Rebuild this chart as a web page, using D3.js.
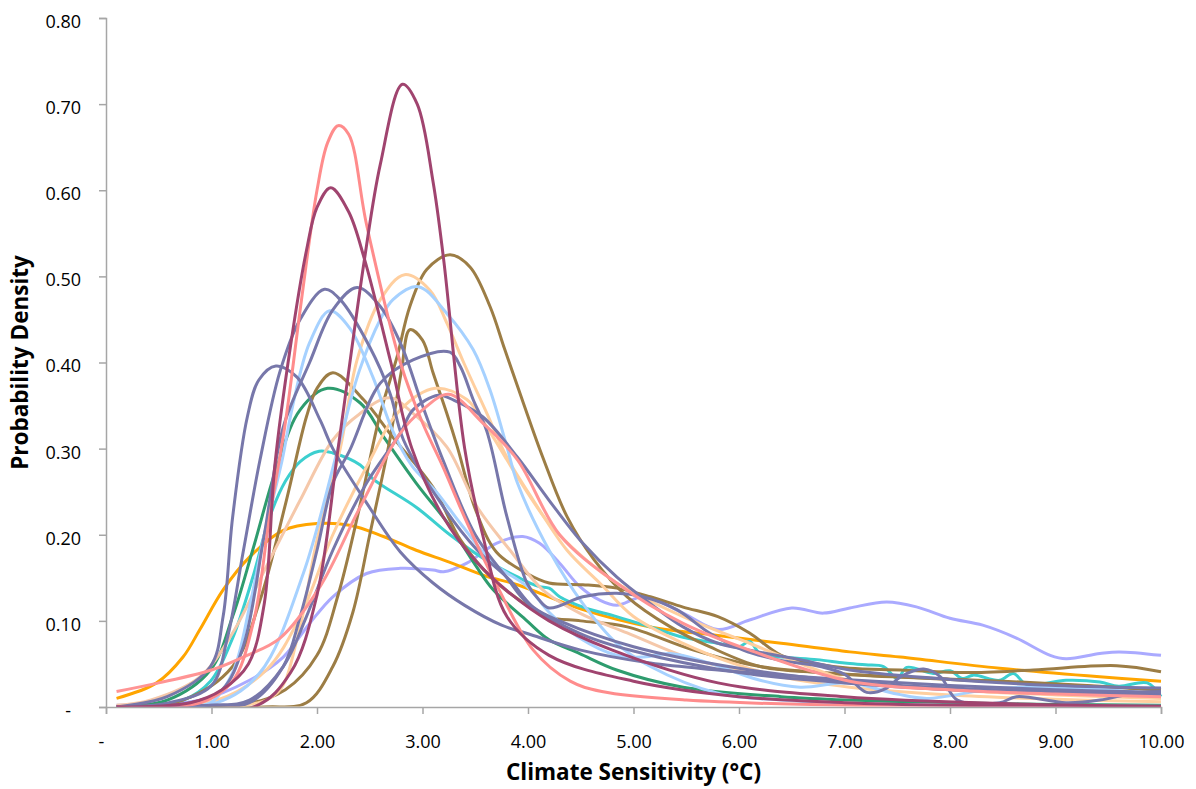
<html>
<head>
<style>
  body { margin: 0; background: #fff; }
  text { font-family: "Open Sans", sans-serif; fill: #000; }
</style>
</head>
<body>
<svg id="svg" width="1196" height="789"></svg>

<script src="https://cdn.jsdelivr.net/npm/d3@7/dist/d3.min.js"></script>
<script>
// tick values
const xTickValues = [0, 1, 2, 3, 4, 5, 6, 7, 8, 9, 10];
const yTickValues = [0, 0.1, 0.2, 0.3, 0.4, 0.5, 0.6, 0.7, 0.8];

// each curve: [climate sensitivity, probability density]
const lavender = [[0.1,0.002],[0.89,0.008],[1.36,0.031],[1.68,0.058],[1.93,0.097],[2.15,0.128],[2.47,0.155],[2.79,0.161],[3.1,0.159],[3.2,0.157],[3.42,0.167],[3.7,0.19],[3.95,0.198],[4.11,0.19],[4.3,0.167],[4.49,0.14],[4.68,0.124],[4.84,0.118],[5.1,0.128],[5.47,0.109],[5.8,0.09],[6.1,0.101],[6.5,0.115],[6.8,0.109],[7.05,0.115],[7.4,0.122],[7.69,0.116],[8.0,0.103],[8.31,0.095],[8.63,0.08],[8.95,0.06],[9.1,0.056],[9.42,0.062],[9.6,0.064],[10,0.06]];
const orange = [[0.1,0.01],[0.48,0.028],[0.73,0.058],[0.89,0.09],[1.11,0.136],[1.36,0.174],[1.68,0.205],[2.0,0.213],[2.31,0.211],[2.63,0.198],[2.94,0.182],[3.26,0.168],[3.6,0.152],[3.9,0.142],[4.52,0.113],[5.16,0.093],[5.8,0.083],[6.4,0.074],[7.05,0.064],[7.53,0.058],[8.47,0.045],[9.42,0.035],[10,0.03]];
const teal = [[0.1,0],[0.73,0.008],[0.99,0.03],[1.2,0.08],[1.39,0.15],[1.55,0.22],[1.7,0.262],[1.84,0.285],[2.02,0.297],[2.15,0.295],[2.41,0.281],[2.53,0.265],[2.94,0.232],[3.26,0.2],[3.57,0.173],[3.9,0.151],[4.1,0.14],[4.2,0.138],[4.3,0.128],[4.52,0.116],[4.84,0.105],[5.16,0.093],[5.47,0.081],[5.8,0.074],[6.0,0.07],[6.1,0.076],[6.2,0.062],[6.4,0.058],[6.74,0.055],[7.0,0.051],[7.2,0.049],[7.37,0.047],[7.5,0.033],[7.59,0.046],[7.84,0.039],[8.0,0.042],[8.12,0.033],[8.22,0.037],[8.47,0.031],[8.6,0.039],[8.73,0.026],[9.1,0.031],[9.42,0.029],[9.6,0.024],[9.87,0.028],[10,0.012]];
const green = [[0.1,0],[0.58,0.008],[0.99,0.043],[1.2,0.105],[1.39,0.182],[1.62,0.279],[1.84,0.345],[2.1,0.37],[2.41,0.353],[2.63,0.314],[2.94,0.26],[3.26,0.21],[3.5,0.165],[3.67,0.136],[3.99,0.1],[4.2,0.078],[4.49,0.062],[4.84,0.043],[5.47,0.023],[6.4,0.012],[7.05,0.008],[8,0.005],[9,0.003],[10,0.002]];
const brownA = [[0.1,0],[1.3,0.003],[1.7,0.02],[2.0,0.06],[2.2,0.13],[2.4,0.23],[2.6,0.341],[2.76,0.407],[2.88,0.465],[3.04,0.508],[3.26,0.525],[3.45,0.511],[3.64,0.465],[3.78,0.415],[3.95,0.355],[4.14,0.29],[4.37,0.221],[4.62,0.172],[4.94,0.128],[5.35,0.093],[5.72,0.07],[6.2,0.047],[6.77,0.04],[7.5,0.035],[8.5,0.03],[9.3,0.025],[10,0.02]];
const brownB = [[0.1,0],[1.5,0],[1.9,0.005],[2.15,0.047],[2.34,0.11],[2.5,0.2],[2.69,0.31],[2.8,0.39],[2.88,0.438],[3.0,0.426],[3.1,0.388],[3.23,0.341],[3.33,0.302],[3.5,0.23],[3.7,0.18],[3.99,0.155],[4.2,0.144],[4.52,0.142],[4.84,0.138],[5.16,0.128],[5.47,0.116],[5.8,0.105],[6.1,0.086],[6.4,0.06],[6.74,0.05],[7.05,0.045],[7.53,0.043],[8.16,0.04],[8.79,0.043],[9.58,0.048],[10,0.041]];
const brownC = [[0.1,0],[0.73,0.008],[1.2,0.047],[1.46,0.124],[1.71,0.24],[1.9,0.337],[2.0,0.37],[2.15,0.388],[2.44,0.357],[2.72,0.313],[3.1,0.255],[3.36,0.194],[3.67,0.148],[3.92,0.124],[4.18,0.105],[4.5,0.1],[4.94,0.093],[5.57,0.066],[6.2,0.047],[7,0.038],[8,0.032],[9,0.026],[10,0.02]];
const tan = [[0.1,0.002],[0.42,0.008],[0.89,0.035],[1.2,0.086],[1.52,0.163],[1.84,0.24],[2.15,0.31],[2.4,0.34],[2.69,0.359],[2.91,0.341],[3.23,0.302],[3.52,0.232],[3.83,0.182],[4.14,0.136],[4.49,0.109],[4.94,0.086],[5.57,0.055],[6.2,0.039],[6.77,0.031],[8,0.02],[9,0.015],[10,0.012]];
const peachA = [[0.1,0],[1.2,0],[1.62,0.016],[1.81,0.078],[2.0,0.194],[2.22,0.3],[2.38,0.403],[2.6,0.473],[2.83,0.502],[3.07,0.484],[3.23,0.446],[3.39,0.4],[3.61,0.341],[3.8,0.29],[4.05,0.24],[4.37,0.182],[4.68,0.144],[5.0,0.105],[5.47,0.074],[5.94,0.051],[6.4,0.035],[7.05,0.023],[8,0.014],[9,0.009],[10,0.006]];
const peachB = [[0.1,0],[1.05,0.008],[1.52,0.043],[1.84,0.105],[2.15,0.2],[2.47,0.279],[2.79,0.345],[3.12,0.37],[3.42,0.357],[3.61,0.325],[3.8,0.287],[3.9,0.267],[4.2,0.213],[4.52,0.174],[4.84,0.144],[5.47,0.105],[6.1,0.074],[6.74,0.043],[7.05,0.031],[8,0.02],[9,0.014],[10,0.01]];
const blueA = [[0.1,0],[0.7,0.002],[0.99,0.005],[1.2,0.04],[1.36,0.116],[1.5,0.2],[1.67,0.287],[1.77,0.35],[1.93,0.423],[2.12,0.46],[2.31,0.44],[2.53,0.383],[2.72,0.32],[2.9,0.28],[3.13,0.25],[3.36,0.213],[3.67,0.167],[3.99,0.14],[4.2,0.11],[4.49,0.08],[4.84,0.06],[5.1,0.058],[5.35,0.062],[5.72,0.051],[6.2,0.031],[6.58,0.023],[7.05,0.028],[7.5,0.015],[7.78,0.01],[8.47,0.022],[9.1,0.022],[9.5,0.02],[10,0.014]];
const blueB = [[0.1,0],[1.05,0.005],[1.46,0.04],[1.87,0.155],[2.22,0.31],[2.4,0.39],[2.6,0.45],[2.72,0.473],[2.96,0.488],[3.23,0.457],[3.48,0.415],[3.64,0.368],[3.8,0.302],[3.9,0.26],[4.2,0.182],[4.52,0.12],[4.84,0.074],[5.16,0.047],[5.8,0.016],[6.4,0.008],[7,0.004],[8,0.002],[10,0.001]];
const slateA = [[0.1,0],[0.6,0.005],[1.0,0.025],[1.15,0.08],[1.3,0.18],[1.46,0.287],[1.65,0.39],[1.84,0.45],[2.07,0.485],[2.22,0.473],[2.5,0.418],[2.69,0.365],[2.82,0.31],[3.2,0.232],[3.52,0.182],[3.83,0.147],[4.05,0.116],[4.3,0.1],[5,0.07],[6,0.045],[7,0.03],[8,0.022],[9,0.018],[10,0.015]];
const slateB = [[0.1,0],[0.8,0.005],[1.1,0.02],[1.3,0.07],[1.5,0.2],[1.68,0.325],[1.93,0.4],[2.15,0.461],[2.38,0.487],[2.6,0.465],[2.8,0.42],[3.0,0.35],[3.2,0.285],[3.5,0.2],[3.8,0.15],[4.0,0.12],[4.5,0.085],[5,0.065],[6,0.04],[7,0.028],[8,0.02],[9,0.016],[10,0.014]];
const slateC = [[0.1,0],[0.58,0.012],[0.99,0.047],[1.11,0.105],[1.2,0.22],[1.34,0.337],[1.45,0.38],[1.61,0.396],[1.81,0.383],[2.03,0.333],[2.15,0.3],[2.47,0.237],[2.79,0.18],[3.1,0.144],[3.4,0.118],[3.75,0.095],[4.0,0.085],[4.5,0.066],[5.16,0.051],[5.8,0.043],[6.4,0.037],[7,0.032],[8,0.025],[9,0.02],[10,0.017]];
const slateD = [[0.1,0],[1.0,0.002],[1.36,0.005],[1.68,0.047],[1.84,0.105],[2.0,0.182],[2.15,0.26],[2.31,0.298],[2.6,0.376],[2.91,0.403],[3.26,0.412],[3.36,0.395],[3.48,0.357],[3.61,0.32],[3.8,0.221],[3.99,0.144],[4.1,0.125],[4.2,0.115],[4.52,0.128],[4.84,0.132],[5.09,0.128],[5.41,0.113],[5.72,0.086],[6.04,0.066],[6.36,0.055],[6.77,0.047],[7.0,0.038],[7.21,0.017],[7.4,0.022],[7.53,0.035],[7.75,0.044],[7.91,0.035],[8.07,0.008],[8.47,0.005],[8.63,0.012],[9.1,0.005],[9.42,0.008],[9.74,0.016],[10,0.018]];
const slateE = [[0.1,0],[1.0,0.002],[1.36,0.008],[1.68,0.047],[1.9,0.105],[2.15,0.182],[2.47,0.26],[2.79,0.318],[2.91,0.345],[3.15,0.362],[3.3,0.356],[3.57,0.337],[3.9,0.29],[4.2,0.24],[4.52,0.19],[4.84,0.151],[5.16,0.12],[5.47,0.093],[5.8,0.074],[6.1,0.066],[6.58,0.055],[7.05,0.043],[8,0.032],[9,0.025],[10,0.022]];
const pinkB = [[0.1,0.018],[0.5,0.028],[1.0,0.043],[1.3,0.058],[1.65,0.08],[2.03,0.14],[2.4,0.23],[2.79,0.318],[3.0,0.345],[3.25,0.363],[3.57,0.33],[3.9,0.287],[4.3,0.2],[4.84,0.144],[5.47,0.097],[6.1,0.066],[7.05,0.03],[8,0.02],[9,0.015],[10,0.012]];
const pinkA = [[0.1,0],[0.9,0.005],[1.2,0.03],[1.4,0.1],[1.55,0.22],[1.7,0.33],[1.85,0.47],[2.0,0.6],[2.1,0.655],[2.2,0.675],[2.3,0.665],[2.47,0.56],[2.79,0.4],[3.0,0.33],[3.19,0.28],[3.4,0.22],[3.67,0.15],[4.05,0.066],[4.4,0.03],[4.7,0.018],[5.5,0.008],[7,0.002],[10,0]];
const magentaB = [[0.1,0],[0.8,0.005],[1.1,0.02],[1.35,0.05],[1.5,0.12],[1.6,0.28],[1.75,0.42],[1.9,0.53],[2.0,0.58],[2.13,0.603],[2.3,0.575],[2.45,0.52],[2.7,0.4],[2.9,0.3],[3.2,0.22],[3.5,0.17],[3.8,0.135],[4.2,0.1],[4.8,0.066],[5.8,0.028],[7,0.012],[8.5,0.004],[10,0.001]];
const magentaA = [[0.1,0],[1.4,0],[1.75,0.04],[2.0,0.13],[2.2,0.3],[2.45,0.52],[2.6,0.63],[2.81,0.723],[2.95,0.7],[3.1,0.61],[3.2,0.52],[3.4,0.3],[3.57,0.2],[3.8,0.105],[4.2,0.06],[5.0,0.03],[6,0.012],[7,0.005],[8,0.002],[10,0]];

const curves = [lavender, orange, teal, green, brownA, brownB, brownC, tan, peachA, peachB,
                blueA, blueB, slateA, slateB, slateC, slateD, slateE, pinkB, pinkA, magentaB, magentaA];
const curveColors = ["#AAAAFF", "#FFA500", "#3CCFCF", "#2E9C6E", "#9C7D45", "#9C7D45", "#9C7D45", "#F5C8AA", "#FFCF9F", "#FFCF9F",
                     "#A6D1FF", "#A6D1FF", "#7777AA", "#7777AA", "#7777AA", "#7777AA", "#7777AA", "#FF9494", "#FF8C8C", "#A0446F", "#A0446F"];

const svg = d3.select("#svg");
const m = {l: 106, r: 1161, t: 18, b: 707};

const x = d3.scaleLinear().domain([0, 10]).range([m.l, m.r]);
const y = d3.scaleLinear().domain([0, 0.8]).range([m.b, m.t]);

const fmt = d => d === 0 ? "-" : d3.format(".2f")(d);

svg.append("clipPath").attr("id", "plot")
  .append("rect")
  .attr("x", m.l).attr("y", 0)
  .attr("width", m.r - m.l + 2).attr("height", m.b - 0.5);

// y axis
let gy = svg.append("g")
  .attr("transform", `translate(${m.l},0)`)
  .call(d3.axisLeft(y).tickValues(yTickValues).tickFormat(fmt).tickSize(7).tickPadding(18));
gy.selectAll("text").style("font-size", "18px").attr("dy", "0.52em")
  .attr("dx", d => d === 0 ? "-10" : "0");

// x axis
let gx = svg.append("g")
  .attr("transform", `translate(0,${m.b})`)
  .call(d3.axisBottom(x).tickValues(xTickValues).tickFormat(fmt).tickSize(7).tickPadding(21));
gx.selectAll("text").style("font-size", "18px")
  .attr("dx", d => d === 0 ? "-5" : "0");

svg.selectAll(".domain, .tick line").attr("stroke", "#A6A6A6").attr("stroke-width", 1.5);

// curves
const line = d3.line()
  .x(d => x(d[0]))
  .y(d => y(d[1]))
  .curve(d3.curveCatmullRom.alpha(0.5));

svg.append("g").attr("clip-path", "url(#plot)")
  .selectAll("path")
  .data(curves)
  .join("path")
  .attr("d", line)
  .attr("fill", "none")
  .attr("stroke", (d, i) => curveColors[i])
  .attr("stroke-width", 3)
  .attr("stroke-linejoin", "round");

// axis titles
svg.append("text")
  .attr("x", (m.l + m.r) / 2).attr("y", 780)
  .attr("text-anchor", "middle")
  .style("font-size", "22.5px").style("font-weight", "bold")
  .text("Climate Sensitivity (°C)");

svg.append("text")
  .attr("transform", `translate(28,${(m.t + m.b) / 2}) rotate(-90)`)
  .attr("text-anchor", "middle")
  .style("font-size", "22.5px").style("font-weight", "bold")
  .text("Probability Density");
</script>
</body>
</html>
